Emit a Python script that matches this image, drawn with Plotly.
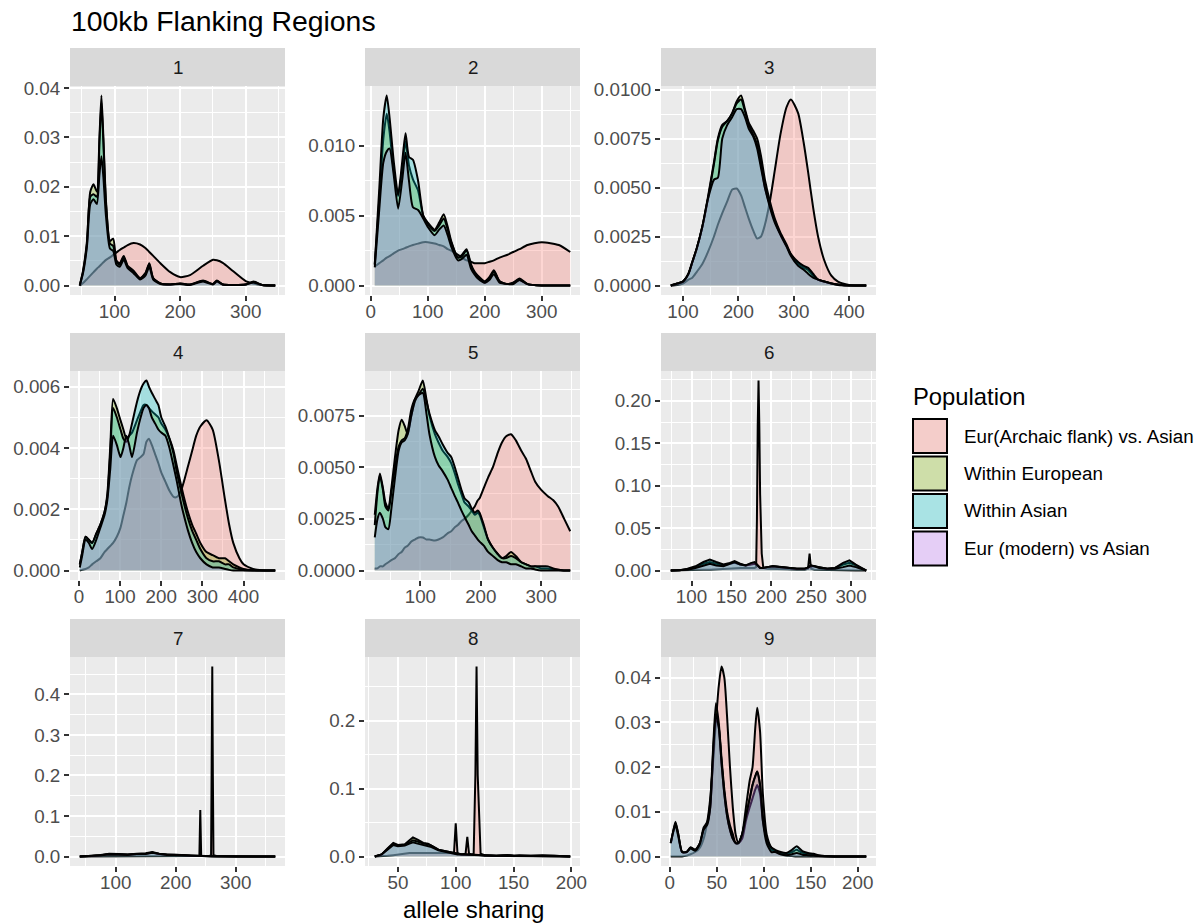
import plotly.graph_objects as go

# ---------------- data ----------------
SERIES = ["Eur(Archaic flank) vs. Asian", "Within European", "Within Asian", "Eur (modern) vs Asian"]
FILLS = ["rgba(248,118,109,0.3)", "rgba(124,174,0,0.3)", "rgba(0,191,196,0.3)", "rgba(199,124,255,0.3)"]
PANELS = ["1", "2", "3", "4", "5", "6", "7", "8", "9"]

x1 = [47, 52, 58, 63, 68, 73, 77, 80, 83, 87, 93, 98, 103, 108, 114, 120, 129, 139, 147, 153, 159, 170, 185, 200, 215, 235, 250, 256, 265, 280, 300, 312, 325, 345]
red1 = [0.0, 0.0005, 0.0013, 0.0020, 0.0027, 0.0034, 0.0039, 0.0043, 0.0047, 0.0052, 0.0057, 0.0062, 0.0067, 0.0072, 0.0077, 0.0082, 0.0086, 0.0083, 0.0076, 0.0068, 0.0060, 0.0045, 0.0027, 0.0017, 0.0021, 0.0040, 0.0052, 0.0051, 0.0046, 0.0030, 0.0009, 0.0004, 0.0001, 0.0]
grn1 = [0.0, 0.0030, 0.0090, 0.0190, 0.0205, 0.0190, 0.0300, 0.0385, 0.0300, 0.0170, 0.0090, 0.0095, 0.0050, 0.0045, 0.0060, 0.0040, 0.0030, 0.0015, 0.0025, 0.0045, 0.0015, 0.0004, 0.0002, 0.0004, 0.0002, 0.0010, 0.0003, 0.0010, 0.0002, 0.0001, 0.0002, 0.0008, 0.0001, 0.0]
cyn1 = [0.0, 0.0028, 0.0085, 0.0180, 0.0185, 0.0180, 0.0290, 0.0370, 0.0290, 0.0165, 0.0085, 0.0080, 0.0048, 0.0042, 0.0058, 0.0038, 0.0028, 0.0014, 0.0024, 0.0043, 0.0014, 0.0004, 0.0002, 0.0004, 0.0002, 0.0009, 0.0003, 0.0009, 0.0002, 0.0001, 0.0002, 0.0007, 0.0001, 0.0]
pur1 = [0.0, 0.0025, 0.0080, 0.0165, 0.0175, 0.0165, 0.0225, 0.0262, 0.0220, 0.0140, 0.0075, 0.0070, 0.0042, 0.0038, 0.0052, 0.0035, 0.0025, 0.0012, 0.0020, 0.0038, 0.0012, 0.0003, 0.0002, 0.0003, 0.0001, 0.0008, 0.0002, 0.0008, 0.0002, 0.0001, 0.0002, 0.0006, 0.0001, 0.0]

x2 = [7, 15, 22, 28, 33, 40, 48, 55, 61, 67, 74, 83, 92, 100, 112, 120, 128, 135, 141, 153, 160, 168, 176, 182, 188, 200, 208, 216, 226, 240, 250, 261, 275, 300, 330, 350]
red2 = [0.00136, 0.0016, 0.0018, 0.0020, 0.0021, 0.0023, 0.0025, 0.0026, 0.0027, 0.0028, 0.0029, 0.0030, 0.0031, 0.0031, 0.0030, 0.0029, 0.0028, 0.0026, 0.0025, 0.0022, 0.0020, 0.0018, 0.0017, 0.0016, 0.0016, 0.0016, 0.0017, 0.0018, 0.0020, 0.0022, 0.0024, 0.0026, 0.0029, 0.0031, 0.0029, 0.0024]
grn2 = [0.0015, 0.0062, 0.0105, 0.0123, 0.0110, 0.0083, 0.0064, 0.0083, 0.0103, 0.0086, 0.0076, 0.0068, 0.0050, 0.0045, 0.0040, 0.0045, 0.0051, 0.0042, 0.0032, 0.0020, 0.0022, 0.0026, 0.0015, 0.0010, 0.0007, 0.0003, 0.0006, 0.0011, 0.0003, 0.0001, 0.0002, 0.0005, 0.0001, 0.0, 0.0, 0.0]
cyn2 = [0.0015, 0.0070, 0.0120, 0.0136, 0.0120, 0.0090, 0.0065, 0.0088, 0.0109, 0.0092, 0.0090, 0.0075, 0.0050, 0.0044, 0.0039, 0.0043, 0.0048, 0.0040, 0.0031, 0.0020, 0.0021, 0.0025, 0.0014, 0.0009, 0.0006, 0.0002, 0.0005, 0.0010, 0.0003, 0.0001, 0.0002, 0.0004, 0.0001, 0.0, 0.0, 0.0]
pur2 = [0.0013, 0.0055, 0.0088, 0.0096, 0.0098, 0.0080, 0.0055, 0.0075, 0.0095, 0.0075, 0.0056, 0.0054, 0.0048, 0.0042, 0.0036, 0.0040, 0.0043, 0.0036, 0.0028, 0.0018, 0.0019, 0.0022, 0.0012, 0.0008, 0.0005, 0.0002, 0.0004, 0.0008, 0.0002, 0.0001, 0.0001, 0.0004, 0.0001, 0.0, 0.0, 0.0]

x3 = [78, 90, 100, 110, 117, 125, 135, 145, 156, 163, 171, 180, 189, 197, 205, 212, 219, 227, 234, 241, 248, 257, 266, 276, 287, 295, 308, 318, 326, 335, 344, 355, 368, 380, 400, 431]
red3 = [0.0, 0.00003, 0.0001, 0.0003, 0.0004, 0.0007, 0.0011, 0.0017, 0.0025, 0.0031, 0.0037, 0.0043, 0.0049, 0.00495, 0.0046, 0.0040, 0.0034, 0.0028, 0.0024, 0.0025, 0.0031, 0.0043, 0.0059, 0.0077, 0.0091, 0.0095, 0.0088, 0.0073, 0.0058, 0.0040, 0.0025, 0.0013, 0.0005, 0.0002, 0.00003, 0.0]
grn3 = [0.0, 0.0001, 0.0002, 0.0006, 0.0012, 0.0019, 0.0030, 0.0045, 0.0063, 0.0075, 0.0082, 0.0084, 0.0088, 0.0094, 0.0097, 0.0090, 0.0083, 0.0079, 0.0075, 0.0066, 0.0054, 0.0043, 0.0034, 0.0027, 0.0021, 0.0016, 0.0011, 0.0009, 0.0008, 0.0005, 0.0003, 0.0002, 0.0001, 0.00005, 0.0, 0.0]
cyn3 = [0.0, 0.0001, 0.0002, 0.0006, 0.0012, 0.0019, 0.0030, 0.0044, 0.0062, 0.0074, 0.0081, 0.0084, 0.0088, 0.0093, 0.0095, 0.0089, 0.0082, 0.0077, 0.0072, 0.0062, 0.0050, 0.0041, 0.0033, 0.0026, 0.0020, 0.0016, 0.0012, 0.0010, 0.0009, 0.0006, 0.0003, 0.0002, 0.0001, 0.00005, 0.0, 0.0]
pur3 = [0.0, 0.0001, 0.0002, 0.0006, 0.0012, 0.0019, 0.0030, 0.0044, 0.0054, 0.0055, 0.0075, 0.0082, 0.0086, 0.0090, 0.0090, 0.0086, 0.0080, 0.0076, 0.0070, 0.0060, 0.0050, 0.0040, 0.0032, 0.0026, 0.0020, 0.0015, 0.0010, 0.0008, 0.0006, 0.0004, 0.0003, 0.0002, 0.0001, 0.00003, 0.0, 0.0]

x4 = [2, 8, 16, 24, 32, 42, 52, 62, 69, 76, 83, 92, 101, 108, 115, 122, 129, 141, 150, 157, 164, 170, 177, 185, 193, 200, 210, 220, 230, 238, 248, 255, 265, 275, 285, 295, 310, 325, 340, 355, 365, 375, 390, 400, 423, 445, 477]
red4 = [0.0, 0.00002, 0.00005, 0.0001, 0.0002, 0.0003, 0.0004, 0.0006, 0.0007, 0.0008, 0.0009, 0.0011, 0.0014, 0.0018, 0.0022, 0.0027, 0.0031, 0.0036, 0.0037, 0.0038, 0.0042, 0.0043, 0.0041, 0.0038, 0.0035, 0.0032, 0.0029, 0.0026, 0.0024, 0.0024, 0.0026, 0.0029, 0.0034, 0.0039, 0.0044, 0.0047, 0.0049, 0.0046, 0.0036, 0.0023, 0.0015, 0.0009, 0.0004, 0.0002, 0.00005, 0.00001, 0.0]
grn4 = [0.0002, 0.0006, 0.0011, 0.0010, 0.0009, 0.0012, 0.0015, 0.0019, 0.0025, 0.0040, 0.0056, 0.0053, 0.0049, 0.0046, 0.0043, 0.0044, 0.0045, 0.0049, 0.0052, 0.0054, 0.0054, 0.0053, 0.0052, 0.0051, 0.0050, 0.0048, 0.0046, 0.0043, 0.0039, 0.0034, 0.0028, 0.0024, 0.0019, 0.0015, 0.0012, 0.0009, 0.0006, 0.0005, 0.0004, 0.0004, 0.0003, 0.0002, 0.0001, 0.00005, 0.00001, 0.0, 0.0]
cyn4 = [0.0002, 0.0006, 0.0011, 0.0010, 0.0009, 0.0012, 0.0015, 0.0019, 0.0024, 0.0038, 0.0053, 0.0050, 0.0046, 0.0043, 0.0042, 0.0044, 0.0048, 0.0055, 0.0059, 0.0061, 0.0062, 0.0060, 0.0058, 0.0056, 0.0054, 0.0050, 0.0047, 0.0043, 0.0038, 0.0032, 0.0026, 0.0022, 0.0017, 0.0013, 0.0010, 0.0007, 0.0004, 0.0003, 0.0003, 0.0002, 0.0002, 0.0001, 0.00005, 0.00002, 0.0, 0.0, 0.0]
pur4 = [0.0001, 0.0005, 0.0010, 0.0009, 0.0007, 0.0010, 0.0014, 0.0018, 0.0023, 0.0033, 0.0044, 0.0041, 0.0037, 0.0040, 0.0044, 0.0041, 0.0037, 0.0045, 0.0050, 0.0053, 0.0054, 0.0053, 0.0050, 0.0048, 0.0046, 0.0045, 0.0044, 0.0040, 0.0034, 0.0029, 0.0022, 0.0018, 0.0013, 0.0009, 0.0006, 0.0004, 0.0002, 0.0001, 0.0001, 0.00005, 0.00002, 0.0, 0.0, 0.0, 0.0, 0.0, 0.0]

x5 = [24.5, 29, 33, 38, 42, 47, 52, 58, 64, 69, 74, 79, 85, 91, 97, 104, 110, 115, 124, 130, 137, 145, 151, 157, 162, 168, 173, 180, 185, 190, 195, 198, 205, 212, 220, 228, 235, 242, 250, 258, 267, 275, 283, 290, 300, 311, 320, 328, 338, 348]
red5 = [0.0001, 0.0001, 0.0002, 0.0002, 0.0003, 0.0004, 0.0005, 0.0006, 0.0008, 0.0009, 0.0011, 0.0012, 0.0014, 0.0015, 0.0016, 0.0016, 0.0015, 0.0015, 0.00145, 0.0015, 0.0016, 0.0018, 0.0019, 0.0021, 0.0022, 0.0024, 0.0025, 0.0027, 0.0029, 0.0031, 0.0034, 0.0035, 0.0040, 0.0045, 0.0050, 0.0057, 0.0062, 0.0065, 0.0066, 0.0063, 0.0058, 0.0054, 0.0048, 0.0043, 0.0039, 0.0036, 0.0034, 0.0031, 0.0025, 0.0019]
grn5 = [0.0027, 0.0040, 0.0047, 0.0040, 0.0033, 0.0030, 0.0040, 0.0055, 0.0068, 0.0073, 0.0070, 0.0066, 0.0075, 0.0083, 0.0087, 0.0092, 0.0083, 0.0075, 0.0066, 0.0062, 0.0058, 0.0055, 0.0052, 0.0047, 0.0042, 0.0037, 0.0033, 0.0031, 0.0029, 0.0027, 0.0028, 0.0027, 0.0021, 0.0015, 0.0011, 0.0008, 0.0006, 0.0007, 0.0009, 0.0007, 0.0004, 0.0003, 0.0002, 0.0002, 0.0001, 0.0001, 0.00005, 0.00002, 0.0, 0.0]
cyn5 = [0.0022, 0.0038, 0.0046, 0.0039, 0.0031, 0.0029, 0.0038, 0.0050, 0.0060, 0.0063, 0.0064, 0.0068, 0.0078, 0.0083, 0.0085, 0.0088, 0.0082, 0.0076, 0.0068, 0.0065, 0.0061, 0.0057, 0.0055, 0.0050, 0.0045, 0.0039, 0.0035, 0.0033, 0.0030, 0.0028, 0.0029, 0.0028, 0.0022, 0.0015, 0.0011, 0.0008, 0.0006, 0.0006, 0.0007, 0.0006, 0.0004, 0.0003, 0.0002, 0.0002, 0.0002, 0.0002, 0.0001, 0.00005, 0.0, 0.0]
pur5 = [0.0016, 0.0025, 0.0028, 0.0025, 0.0021, 0.0020, 0.0030, 0.0045, 0.0058, 0.0062, 0.0063, 0.0066, 0.0075, 0.0082, 0.0085, 0.0086, 0.0076, 0.0066, 0.0055, 0.0051, 0.0048, 0.0044, 0.0040, 0.0036, 0.0033, 0.0029, 0.0026, 0.0022, 0.0019, 0.0017, 0.0015, 0.0014, 0.0012, 0.0009, 0.0007, 0.0005, 0.0004, 0.0004, 0.0003, 0.0003, 0.0002, 0.0001, 0.0001, 0.00005, 0.0, 0.0, 0.0, 0.0, 0.0, 0.0]

x6 = [74, 85, 95, 105, 115, 123, 131, 140, 148, 154, 161, 168, 175, 179, 181, 182, 183, 184, 185, 186, 188, 190, 195, 202, 210, 220, 232, 242, 246, 247, 248, 249, 250, 254, 260, 270, 280, 290, 298, 306, 319]
red6 = [0.0, 0.0, 0.0002, 0.0005, 0.0008, 0.001, 0.0015, 0.0025, 0.003, 0.003, 0.003, 0.003, 0.003, 0.003, 0.004, 0.06, 0.17, 0.224, 0.17, 0.09, 0.02, 0.003, 0.002, 0.002, 0.002, 0.0015, 0.001, 0.001, 0.002, 0.010, 0.020, 0.010, 0.002, 0.001, 0.0008, 0.0005, 0.0003, 0.0002, 0.0001, 0.0, 0.0]
grn6 = [0.0, 0.0003, 0.0015, 0.004, 0.008, 0.010, 0.008, 0.006, 0.008, 0.009, 0.007, 0.006, 0.008, 0.009, 0.008, 0.007, 0.006, 0.005, 0.004, 0.003, 0.003, 0.003, 0.004, 0.005, 0.0045, 0.003, 0.002, 0.002, 0.003, 0.004, 0.005, 0.005, 0.005, 0.005, 0.004, 0.002, 0.003, 0.007, 0.009, 0.006, 0.0]
cyn6 = [0.0, 0.0003, 0.002, 0.005, 0.010, 0.013, 0.010, 0.007, 0.009, 0.011, 0.008, 0.006, 0.007, 0.008, 0.007, 0.006, 0.005, 0.004, 0.004, 0.003, 0.003, 0.003, 0.004, 0.005, 0.004, 0.003, 0.002, 0.002, 0.003, 0.004, 0.004, 0.005, 0.005, 0.005, 0.004, 0.002, 0.003, 0.009, 0.012, 0.007, 0.0]
pur6 = [0.0, 0.0002, 0.001, 0.003, 0.006, 0.008, 0.006, 0.005, 0.008, 0.010, 0.007, 0.006, 0.009, 0.010, 0.008, 0.007, 0.005, 0.004, 0.003, 0.003, 0.003, 0.003, 0.004, 0.005, 0.004, 0.003, 0.002, 0.002, 0.003, 0.004, 0.005, 0.006, 0.006, 0.005, 0.003, 0.002, 0.002, 0.004, 0.006, 0.004, 0.0]

x7 = [40, 60, 75, 89, 105, 120, 135, 150, 161, 172, 185, 197, 210, 224, 235, 239.5, 241, 242.5, 247, 255, 259, 260, 261, 262, 263, 268, 280, 300, 330, 366]
red7 = [0.0, 0.0, 0.0, 0.0005, 0.001, 0.001, 0.001, 0.001, 0.001, 0.001, 0.001, 0.001, 0.001, 0.001, 0.001, 0.002, 0.115, 0.002, 0.001, 0.001, 0.003, 0.2, 0.469, 0.2, 0.003, 0.001, 0.0, 0.0, 0.0, 0.0]
grn7 = [0.0, 0.001, 0.004, 0.007, 0.006, 0.005, 0.007, 0.008, 0.011, 0.007, 0.005, 0.005, 0.004, 0.002, 0.001, 0.001, 0.001, 0.001, 0.001, 0.0005, 0.0005, 0.0005, 0.0005, 0.0005, 0.0005, 0.0003, 0.0, 0.0, 0.0, 0.0]
cyn7 = [0.0, 0.001, 0.003, 0.006, 0.005, 0.005, 0.006, 0.007, 0.010, 0.006, 0.005, 0.004, 0.003, 0.002, 0.001, 0.001, 0.001, 0.001, 0.001, 0.0005, 0.0005, 0.0005, 0.0005, 0.0005, 0.0005, 0.0003, 0.0, 0.0, 0.0, 0.0]
pur7 = [0.0, 0.001, 0.003, 0.005, 0.005, 0.004, 0.006, 0.006, 0.009, 0.006, 0.004, 0.004, 0.003, 0.002, 0.001, 0.001, 0.001, 0.001, 0.001, 0.0005, 0.0005, 0.0005, 0.0005, 0.0005, 0.0005, 0.0003, 0.0, 0.0, 0.0, 0.0]

x8 = [30, 33, 36, 41, 46, 50, 56, 60, 63, 67, 72, 76, 79, 85, 90, 96, 98.5, 100, 101.5, 105, 108.5, 110, 111.5, 114, 115.5, 117, 118, 119, 121.5, 125, 135, 145, 150, 155, 165, 175, 185, 199]
red8 = [0.0, 0.0, 0.0005, 0.001, 0.002, 0.003, 0.004, 0.005, 0.005, 0.005, 0.005, 0.004, 0.004, 0.004, 0.004, 0.004, 0.005, 0.049, 0.005, 0.003, 0.004, 0.029, 0.004, 0.003, 0.004, 0.12, 0.28, 0.12, 0.004, 0.002, 0.001, 0.002, 0.001, 0.002, 0.001, 0.002, 0.001, 0.0]
grn8 = [0.0, 0.001, 0.003, 0.012, 0.020, 0.017, 0.018, 0.024, 0.028, 0.025, 0.020, 0.019, 0.016, 0.010, 0.008, 0.006, 0.005, 0.005, 0.004, 0.003, 0.003, 0.003, 0.002, 0.002, 0.002, 0.002, 0.002, 0.002, 0.002, 0.002, 0.001, 0.002, 0.001, 0.001, 0.001, 0.002, 0.001, 0.0]
cyn8 = [0.0, 0.001, 0.003, 0.011, 0.019, 0.016, 0.017, 0.021, 0.024, 0.022, 0.019, 0.018, 0.016, 0.010, 0.008, 0.006, 0.005, 0.005, 0.004, 0.003, 0.003, 0.003, 0.002, 0.002, 0.002, 0.002, 0.002, 0.002, 0.002, 0.002, 0.001, 0.002, 0.001, 0.001, 0.001, 0.001, 0.001, 0.0]
pur8 = [0.0, 0.001, 0.003, 0.010, 0.017, 0.015, 0.016, 0.019, 0.021, 0.019, 0.017, 0.016, 0.014, 0.009, 0.007, 0.005, 0.004, 0.004, 0.003, 0.003, 0.003, 0.002, 0.002, 0.002, 0.002, 0.002, 0.002, 0.002, 0.002, 0.001, 0.001, 0.001, 0.001, 0.001, 0.001, 0.001, 0.001, 0.0]

x9 = [1, 3, 6, 9, 13, 18, 22, 27, 32, 36, 40, 43, 46, 49, 52, 55, 58, 61, 64, 67, 70, 73, 77, 81, 85, 88, 91, 93, 96, 99, 103, 108, 112, 118, 124, 130, 135, 141, 147, 153, 158, 165, 175, 190, 209]
red9 = [0.0, 0.0, 0.0, 0.0, 0.0, 0.0002, 0.0005, 0.001, 0.002, 0.004, 0.008, 0.013, 0.021, 0.030, 0.038, 0.0425, 0.040, 0.031, 0.020, 0.011, 0.005, 0.003, 0.005, 0.011, 0.0170, 0.0200, 0.029, 0.0333, 0.028, 0.014, 0.005, 0.002, 0.0012, 0.0005, 0.0002, 0.0001, 0.0, 0.0, 0.0, 0.0, 0.0, 0.0, 0.0, 0.0, 0.0]
grn9 = [0.003, 0.005, 0.0078, 0.005, 0.001, 0.001, 0.002, 0.0015, 0.003, 0.0065, 0.0078, 0.012, 0.024, 0.0343, 0.030, 0.022, 0.015, 0.010, 0.007, 0.005, 0.003, 0.003, 0.005, 0.009, 0.013, 0.016, 0.018, 0.019, 0.016, 0.009, 0.004, 0.0015, 0.0013, 0.0008, 0.0005, 0.001, 0.0015, 0.0008, 0.0006, 0.0004, 0.0002, 0.0001, 0.0, 0.0, 0.0]
cyn9 = [0.003, 0.005, 0.0075, 0.005, 0.001, 0.001, 0.002, 0.0015, 0.003, 0.006, 0.0075, 0.011, 0.022, 0.031, 0.029, 0.021, 0.014, 0.009, 0.006, 0.004, 0.003, 0.003, 0.004, 0.008, 0.011, 0.013, 0.015, 0.016, 0.014, 0.008, 0.004, 0.002, 0.0015, 0.001, 0.0008, 0.0015, 0.0023, 0.0012, 0.0008, 0.0006, 0.0003, 0.0001, 0.0, 0.0, 0.0]
pur9 = [0.003, 0.005, 0.007, 0.0045, 0.001, 0.001, 0.0018, 0.0013, 0.0028, 0.006, 0.0072, 0.011, 0.023, 0.032, 0.029, 0.021, 0.014, 0.009, 0.006, 0.004, 0.003, 0.003, 0.005, 0.009, 0.013, 0.016, 0.018, 0.019, 0.016, 0.008, 0.003, 0.001, 0.001, 0.0005, 0.0003, 0.0005, 0.0008, 0.0004, 0.0003, 0.0002, 0.0001, 0.0, 0.0, 0.0, 0.0]

XS = [x1, x2, x3, x4, x5, x6, x7, x8, x9]
YS = [[red1, grn1, cyn1, pur1], [red2, grn2, cyn2, pur2], [red3, grn3, cyn3, pur3],
      [red4, grn4, cyn4, pur4], [red5, grn5, cyn5, pur5], [red6, grn6, cyn6, pur6],
      [red7, grn7, cyn7, pur7], [red8, grn8, cyn8, pur8], [red9, grn9, cyn9, pur9]]

# tick values / label formats per panel
XTICKS = [[100, 200, 300], [0, 100, 200, 300], [100, 200, 300, 400], [0, 100, 200, 300, 400],
          [100, 200, 300], [100, 150, 200, 250, 300], [100, 200, 300], [50, 100, 150, 200],
          [0, 50, 100, 150, 200]]
YTICKS = [[0, 0.01, 0.02, 0.03, 0.04], [0, 0.005, 0.010], [0, 0.0025, 0.005, 0.0075, 0.01],
          [0, 0.002, 0.004, 0.006], [0, 0.0025, 0.005, 0.0075], [0, 0.05, 0.10, 0.15, 0.20],
          [0, 0.1, 0.2, 0.3, 0.4], [0, 0.1, 0.2], [0, 0.01, 0.02, 0.03, 0.04]]
YFMT = [".2f", ".3f", ".4f", ".3f", ".4f", ".2f", ".1f", ".1f", ".2f"]
SMOOTH = [True, True, True, True, True, False, False, False, True]

# ---------------- layout geometry (pixels) ----------------
W, H = 1202, 924
COLS = [(70, 285), (365, 580), (661, 876)]
ROWS = [(86, 295), (371, 580), (657, 866)]
STRIP = 38
FONT = "Liberation Sans, Arial, Helvetica, sans-serif"
SMALL = 18.8


def px(x):
    return x / W


def py(y):
    return 1 - y / H


fig = go.Figure()
layout = dict(width=W, height=H, margin=dict(l=0, r=0, t=0, b=0, pad=0, autoexpand=False),
              paper_bgcolor="white", plot_bgcolor="#EBEBEB",
              font=dict(family=FONT), showlegend=False)
shapes, annotations = [], []

for i, name in enumerate(PANELS):
    r, c = divmod(i, 3)
    x0, x1p = COLS[c]
    y0, y1p = ROWS[r]
    sfx = "" if i == 0 else str(i + 1)
    xs = XS[i]
    for k in range(4):
        line = dict(color="black", width=2)
        if SMOOTH[i]:
            line.update(shape="spline", smoothing=0.6)
        fig.add_trace(go.Scatter(x=xs, y=YS[i][k], mode="lines", fill="tozeroy",
                                 fillcolor=FILLS[k], line=line, name=SERIES[k],
                                 xaxis="x" + sfx, yaxis="y" + sfx, hoverinfo="skip"))
    xmin, xmax = min(xs), max(xs)
    span = xmax - xmin
    ymax = max(max(s) for s in YS[i])
    xt = XTICKS[i]
    yt = YTICKS[i]
    xstep = xt[1] - xt[0]
    ystep = yt[1] - yt[0]
    common = dict(showgrid=True, gridcolor="white", gridwidth=2, zeroline=False, showline=False,
                  ticks="outside", ticklen=5, tickwidth=2, tickcolor="#333333", automargin=False,
                  tickfont=dict(size=SMALL, color="#4D4D4D", family=FONT), tickmode="array")
    layout["xaxis" + sfx] = dict(common, domain=[px(x0), px(x1p)], anchor="y" + sfx,
                                 range=[xmin - 0.05 * span, xmax + 0.05 * span], tickvals=xt,
                                 ticklabelstandoff=-6,
                                 minor=dict(dtick=xstep / 2, tick0=0, showgrid=True, gridcolor="white", gridwidth=1, ticks=""))
    layout["yaxis" + sfx] = dict(common, domain=[py(y1p), py(y0)], anchor="x" + sfx,
                                 range=[-0.05 * ymax, 1.05 * ymax], tickvals=yt, tickformat=YFMT[i],
                                 minor=dict(dtick=ystep / 2, tick0=0, showgrid=True, gridcolor="white", gridwidth=1, ticks=""))
    # strip
    shapes.append(dict(type="rect", xref="paper", yref="paper", x0=px(x0), x1=px(x1p),
                       y0=py(y0), y1=py(y0 - STRIP), fillcolor="#D9D9D9", line=dict(width=0), layer="below"))
    annotations.append(dict(text=name, xref="paper", yref="paper", x=px((x0 + x1p) / 2),
                            y=py(y0 - STRIP / 2), showarrow=False, xanchor="center", yanchor="middle",
                            font=dict(size=SMALL, color="#1A1A1A", family=FONT)))

# title and axis title
annotations.append(dict(text="100kb Flanking Regions", xref="paper", yref="paper", x=px(69), y=py(21),
                        showarrow=False, xanchor="left", yanchor="middle",
                        font=dict(size=28.4, color="black", family=FONT)))
annotations.append(dict(text="allele sharing", xref="paper", yref="paper", x=px((70 + 876) / 2), y=py(909),
                        showarrow=False, xanchor="center", yanchor="middle",
                        font=dict(size=24, color="black", family=FONT)))

# legend (drawn manually, ggplot style)
annotations.append(dict(text="Population", xref="paper", yref="paper", x=px(911), y=py(396),
                        showarrow=False, xanchor="left", yanchor="middle",
                        font=dict(size=23.8, color="black", family=FONT)))
for k in range(4):
    top = 419 + k * 37.5
    shapes.append(dict(type="rect", xref="paper", yref="paper", x0=px(913), x1=px(947),
                       y0=py(top + 34), y1=py(top), fillcolor="#F2F2F2", line=dict(width=0)))
    shapes.append(dict(type="rect", xref="paper", yref="paper", x0=px(913), x1=px(947),
                       y0=py(top + 34), y1=py(top), fillcolor=FILLS[k], line=dict(color="black", width=2)))
    annotations.append(dict(text=SERIES[k], xref="paper", yref="paper", x=px(962), y=py(top + 17),
                            showarrow=False, xanchor="left", yanchor="middle",
                            font=dict(size=SMALL, color="black", family=FONT)))

layout["shapes"] = shapes
layout["annotations"] = annotations
fig.update_layout(**layout)
fig.write_html("out.html")
